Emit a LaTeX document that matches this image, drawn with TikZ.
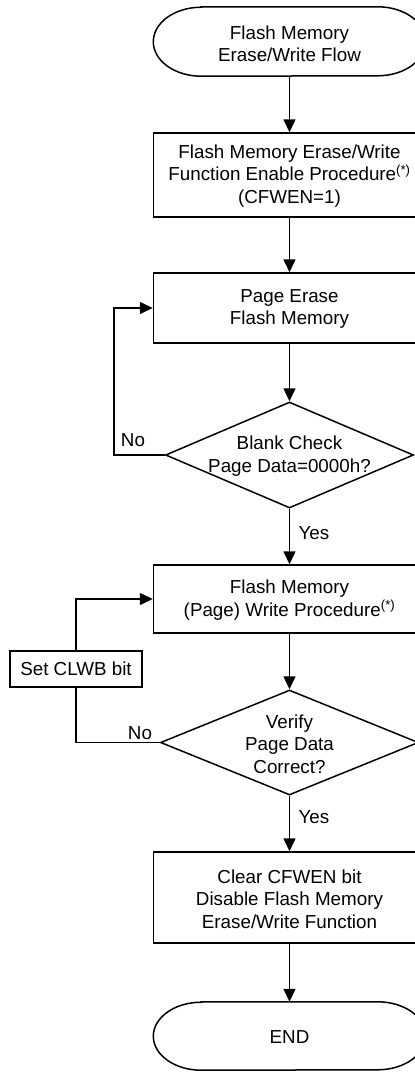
\documentclass[tikz,border=0pt]{standalone}
\usepackage{fontspec}
\setmainfont{Liberation Sans}
\usetikzlibrary{shapes.geometric,arrows.meta}
\begin{document}
\begin{tikzpicture}[x=1pt,y=-1pt,
  every node/.style={font=\fontsize{18.8}{22.5}\selectfont},
  line/.style={line width=1.5pt},
  arr/.style={line width=1.5pt,-{Triangle[length=13pt,width=12pt]}},
  procbox/.style={draw,line width=1.5pt,rectangle,inner sep=0pt,minimum width=272pt},
  termbox/.style={rectangle,inner sep=0pt,minimum width=272pt,minimum height=69pt},
  termline/.style={line width=1.5pt},
  decbox/.style={draw,line width=1.5pt,diamond,inner sep=0pt},
  txt/.style={align=center,inner sep=0pt},
  lbl/.style={inner sep=0pt}]
\useasboundingbox (0,0) rectangle (415,1072);
\clip (0,0) rectangle (415,1072);
% nodes
\node[termbox] (start) at (289.5,41.5) {};
\draw[termline] ([xshift=48pt]start.north west) -- ([xshift=-48pt]start.north east)
  arc[start angle=90,end angle=-90,x radius=48pt,y radius=34.5pt]
  -- ([xshift=48pt]start.south west)
  arc[start angle=270,end angle=90,x radius=48pt,y radius=34.5pt] -- cycle;
\node[txt] (starttxt) at (289.5,44) {Flash Memory\\Erase/Write Flow};
\node[procbox,minimum height=84pt] (b1) at (289.5,175) {};
\node[txt] (b1txt) at (289.5,176) {Flash Memory Erase/Write\\Function Enable Procedure\textsuperscript{(*)}\\(CFWEN=1)};
\node[procbox,minimum height=70pt] (b2) at (289.5,308) {};
\node[txt] (b2txt) at (289.5,309) {Page Erase\\Flash Memory};
\node[decbox,minimum width=248pt,minimum height=106pt] (d1) at (289.5,455) {};
\node[txt] (d1txt) at (289.5,456) {Blank Check\\Page Data=0000h?};
\node[procbox,minimum height=68pt] (b3) at (289.5,599) {};
\node[txt] (b3txt) at (289.5,600) {Flash Memory\\(Page) Write Procedure\textsuperscript{(*)}};
\node[decbox,minimum width=258pt,minimum height=105pt] (d2) at (289.5,742.5) {};
\node[txt] (d2txt) at (289.5,744) {Verify\\Page Data\\Correct?};
\node[draw,line width=1.5pt,rectangle,inner sep=0pt,minimum width=132pt,minimum height=36pt] (clwb) at (76,669) {Set CLWB bit};
\node[procbox,minimum height=91pt] (b4) at (289.5,897.5) {};
\node[txt] (b4txt) at (289.5,899) {Clear CFWEN bit\\Disable Flash Memory\\Erase/Write Function};
\node[termbox,minimum height=68pt] (end) at (289.5,1036) {};
\draw[termline] ([xshift=48pt]end.north west) -- ([xshift=-48pt]end.north east)
  arc[start angle=90,end angle=-90,x radius=48pt,y radius=34pt]
  -- ([xshift=48pt]end.south west)
  arc[start angle=270,end angle=90,x radius=48pt,y radius=34pt] -- cycle;
\node[txt] (endtxt) at (289.5,1037) {END};
% connectors
\draw[arr] (start.south) -- (b1.north);
\draw[arr] (b1.south) -- (b2.north);
\draw[arr] (b2.south) -- (d1.north);
\coordinate (l1) at (114,455);
\draw[arr] (d1.west) -- (l1) |- (b2.west);
\draw[arr] (d1.south) -- (b3.north);
\draw[arr] (b3.south) -- (d2.north);
\draw[line] (d2.west) -| (clwb.south);
\draw[arr] (clwb.north) |- (b3.west);
\draw[arr] (d2.south) -- (b4.north);
\draw[arr] (b4.south) -- (end.north);
% labels
\node[lbl] (no1) at (133,440) {No};
\node[lbl] (yes1) at (314,533) {Yes};
\node[lbl] (no2) at (140,733) {No};
\node[lbl] (yes2) at (314,817) {Yes};
\end{tikzpicture}
\end{document}
